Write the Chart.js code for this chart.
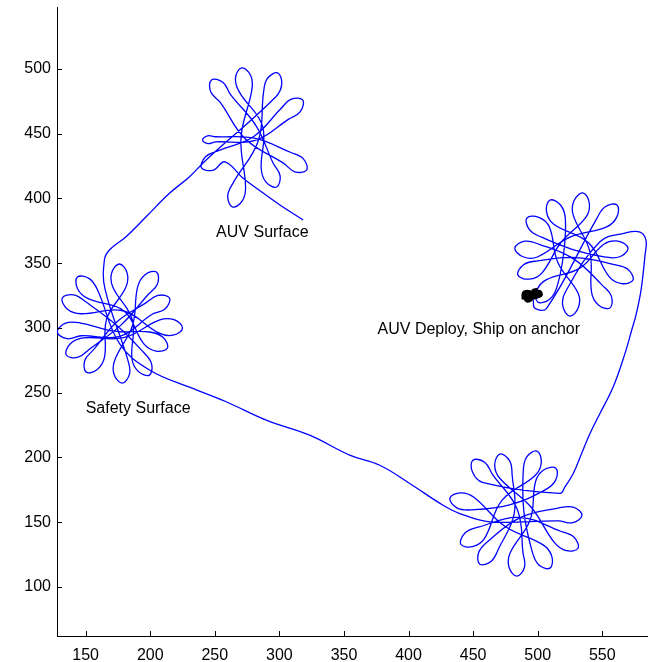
<!DOCTYPE html>
<html>
<head>
<meta charset="utf-8">
<script src="https://cdn.jsdelivr.net/npm/chart.js@4.4.1/dist/chart.umd.min.js"></script>
<style>
  html, body { margin: 0; padding: 0; background: #fff; overflow: hidden; }
  #wrap { width: 648px; height: 662px; }
</style>
</head>
<body>
<div id="wrap"><canvas id="c" width="648" height="662"></canvas></div>
<script>
// Axis ticks (easting / northing, metres)
const xTicks = [150, 200, 250, 300, 350, 400, 450, 500, 550];
const yTicks = [100, 150, 200, 250, 300, 350, 400, 450, 500];

// Annotations
const noteText = ['AUV Surface', 'Safety Surface', 'AUV Deploy, Ship on anchor'];
const noteX = [251, 150, 376];
const noteY = [374, 238, 299];

// Ship track while at anchor
const shipTrack = [
  [489.5, 322], [489.5, 326.5], [492, 327.5], [494.5, 326.5], [494.5, 322.5], [492, 321.5],
  [490.5, 324], [493, 325], [496, 325.5], [499, 327], [501.5, 327.5], [502, 325.5],
  [499, 324.5], [496, 324], [497, 328.5], [500, 329]
];

// AUV launch from the ship
const launch = [[496.5, 322], [497.8, 315.2], [506.9, 315.2]];

// Star pattern at the deploy site (loop, centre crossing, loop, ...)
const deploySite = [
  [545.8, 384.7], [552.3, 393.6], [561.4, 395.0], [561.3, 385.8], [553.4, 378.1],
  [525.0, 370.2],
  [499.7, 354.8], [488.7, 355.0], [482.3, 361.7], [489.9, 367.0], [500.7, 364.8],
  [528.0, 353.2],
  [549.9, 333.1], [557.0, 324.6], [555.9, 315.4], [547.0, 317.8], [541.7, 327.5],
  [540.4, 358.8],
  [527.5, 387.2], [528.1, 398.2], [535.0, 404.3], [539.9, 396.6], [537.5, 385.8],
  [518.0, 366.0],
  [503.2, 342.4], [493.3, 337.7], [484.6, 340.9], [489.1, 348.9], [499.8, 351.8],
  [529.8, 354.4],
  [559.3, 348.9], [569.8, 345.3], [573.8, 337.0], [565.0, 334.3], [555.3, 339.7],
  [539.3, 365.8],
  [512.2, 380.3], [506.8, 390.0], [509.5, 398.8], [517.8, 394.8], [521.4, 384.3],
  [520.1, 357.7],
  [514.8, 331.4], [509.0, 322.0], [500.0, 320.0], [499.4, 329.2], [506.8, 337.4],
  [532.3, 346.0],
  [551.5, 364.8], [562.3, 367.0], [569.9, 361.7], [563.5, 355.0], [552.5, 354.8],
  [527.2, 360.6],
  [503.0, 370.1], [493.6, 375.9], [491.6, 384.9], [500.8, 385.5], [509.0, 378.1],
  [515.6, 350.5],
  [531.3, 326.8], [531.5, 315.8], [525.0, 309.2], [519.5, 316.6], [521.3, 327.6]
];

// Leg down the east side
const legSouth = [
  [548.2, 366.6], [567.6, 373.3], [579.2, 374.1], [583.8, 367.9], [583.1, 356.3],
  [580.0, 329.3], [576.1, 310.0], [572.8, 298.4], [567.6, 280.4], [558.5, 254.6],
  [548.2, 234.0], [540.5, 218.5], [534.0, 203.1], [527.5, 187.6], [521.1, 177.3],
  [517.2, 172.2]
];

// Star pattern at the southern site
const southSite = [
  [457.2, 180.8], [449.5, 188.7], [449.8, 197.9], [458.9, 196.3], [465.0, 187.0],
  [484.3, 159.6],
  [488.6, 126.4], [489.8, 115.4], [483.9, 108.3], [477.8, 115.2], [478.6, 126.2],
  [494.2, 151.9],
  [498.4, 181.6], [504.9, 190.5], [514.1, 191.7], [513.9, 182.5], [505.8, 175.0],
  [478.1, 163.4],
  [448.4, 159.5], [437.4, 161.1], [432.0, 168.5], [440.2, 172.7], [450.6, 169.3],
  [474.6, 146.8],
  [504.2, 132.5], [510.9, 123.6], [509.5, 114.5], [500.7, 117.2], [495.8, 127.1],
  [489.3, 158.0],
  [488.8, 189.5], [491.4, 200.3], [499.4, 204.9], [502.8, 196.3], [498.2, 186.3],
  [472.3, 166.8],
  [458.7, 137.3], [449.5, 131.1], [440.5, 133.0], [443.7, 141.7], [453.9, 146.1],
  [486.3, 153.6],
  [517.8, 143.0], [528.0, 138.6], [531.2, 129.9], [522.2, 128.0], [513.0, 134.2],
  [494.8, 161.7],
  [470.6, 183.9], [466.7, 194.2], [470.7, 202.6], [478.3, 197.4], [480.2, 186.5],
  [481.8, 156.6],
  [469.6, 129.3], [464.1, 119.8], [455.2, 117.5], [454.3, 126.6], [461.4, 135.1],
  [486.5, 153.5],
  [516.5, 161.0], [527.5, 161.6], [534.3, 155.4], [527.1, 149.6], [516.1, 151.0]
];

// Long leg back to the west
const legWest = [
  [463.0, 150.3], [439.7, 156.7], [426.7, 163.1], [400.9, 179.9], [377.7, 194.0],
  [354.4, 201.8], [323.4, 217.2], [289.8, 228.8], [258.8, 243.0], [232.9, 253.3],
  [199.4, 267.5], [176.1, 288.1]
];

// Star pattern at the safety-surface site
const safetySite = [
  [159.3, 329.2], [152.8, 338.1], [143.6, 339.3], [143.8, 330.1], [151.9, 322.6],
  [179.7, 313.1],
  [194.9, 287.9], [204.4, 282.2], [213.3, 284.5], [209.6, 293.0], [199.3, 296.9],
  [172.0, 297.5],
  [145.4, 304.0], [134.4, 303.7], [128.1, 296.8], [135.8, 291.7], [146.6, 294.0],
  [176.5, 293.6],
  [201.2, 310.4], [211.4, 314.6], [214.9, 323.1], [206.0, 325.2], [196.6, 319.4],
  [173.9, 304.5],
  [156.5, 283.6], [149.4, 275.1], [150.5, 265.9], [159.4, 268.3], [164.7, 278.0],
  [166.2, 306.8],
  [181.1, 331.4], [182.1, 342.4], [176.1, 349.4], [170.1, 342.4], [171.1, 331.4],
  [186.2, 306.0],
  [185.8, 276.4], [190.7, 266.5], [199.4, 263.6], [200.9, 272.7], [194.4, 281.6],
  [173.7, 302.3],
  [150.3, 320.0], [140.7, 325.5], [131.9, 323.1], [135.7, 314.7], [146.1, 311.0],
  [178.8, 313.3],
  [206.6, 296.2], [217.6, 294.4], [225.0, 299.9], [218.4, 306.4], [207.4, 306.2],
  [179.4, 292.5],
  [148.1, 292.4], [138.1, 287.8], [135.0, 279.1], [144.1, 277.4], [153.1, 283.8],
  [177.7, 302.6],
  [198.2, 325.7], [205.6, 334.0], [204.8, 343.2], [195.8, 341.0], [190.2, 331.5],
  [186.2, 301.8],
  [172.5, 275.1], [172.0, 264.1], [178.4, 257.4], [184.0, 264.7], [182.5, 275.7]
];

// Leg north to the surfacing site
const legNorth = [
  [165.0, 330.0], [164.5, 352.5], [168.4, 360.2], [181.3, 370.5], [196.8, 385.9],
  [214.9, 404.0], [230.4, 416.8], [243.3, 429.8]
];

// Star pattern at the surfacing site
const surfaceSite = [
  [297.1, 478.4], [301.8, 488.3], [298.6, 497.0], [290.6, 492.5], [287.7, 481.8],
  [283.6, 444.4],
  [264.2, 412.1], [260.0, 401.9], [263.7, 393.4], [271.4, 398.3], [273.8, 409.1],
  [270.3, 447.0],
  [278.7, 484.1], [277.8, 495.0], [270.7, 500.9], [266.0, 493.0], [268.9, 482.3],
  [287.0, 455.7],
  [285.9, 423.4], [289.5, 412.9], [297.8, 408.9], [300.5, 417.7], [295.1, 427.4],
  [282.1, 455.9],
  [262.2, 480.2], [256.4, 489.6], [247.4, 491.6], [246.8, 482.4], [254.2, 474.2],
  [273.9, 445.8],
  [303.1, 427.3], [312.0, 420.6], [321.1, 422.0], [318.4, 430.8], [308.5, 435.7],
  [280.5, 446.6],
  [250.4, 447.7], [244.4, 448.4], [240.5, 445.2], [244.7, 442.4], [250.6, 443.7],
  [281.2, 444.8],
  [306.9, 461.1], [316.2, 467.1], [318.0, 476.1], [308.8, 476.5], [300.7, 468.9],
  [280.1, 447.9],
  [252.8, 436.9], [242.8, 432.3], [239.7, 423.6], [248.8, 421.9], [257.8, 428.3]
];

// Final run to the surface
const ascent = [[271.9, 415.6], [282.3, 407.9], [300.4, 395.0], [318.4, 383.4]];

const toXY = a => a.map(p => ({ x: p[0], y: p[1] }));
const auvTrack = [].concat(launch, deploySite, legSouth, southSite, legWest,
                           safetySite, legNorth, surfaceSite, ascent);

const FONT = "'Liberation Sans', Arial, Helvetica, sans-serif";

// Tick marks pointing into the plot
const inwardTicks = {
  id: 'inwardTicks',
  afterDraw(chart) {
    const { ctx, chartArea: a, scales: { x, y } } = chart;
    ctx.save();
    ctx.strokeStyle = '#000';
    ctx.lineWidth = 1;
    ctx.beginPath();
    xTicks.forEach(v => {
      const px = Math.round(x.getPixelForValue(v)) + 0.5;
      ctx.moveTo(px, a.bottom);
      ctx.lineTo(px, a.bottom - 5);
    });
    yTicks.forEach(v => {
      const py = Math.round(y.getPixelForValue(v)) + 0.5;
      ctx.moveTo(a.left, py);
      ctx.lineTo(a.left + 5, py);
    });
    ctx.stroke();
    ctx.restore();
  }
};

// Text notes placed in data coordinates
const notes = {
  id: 'notes',
  afterDatasetsDraw(chart) {
    const { ctx, scales: { x, y } } = chart;
    ctx.save();
    ctx.fillStyle = '#000';
    ctx.font = '16px ' + FONT;
    ctx.textAlign = 'left';
    ctx.textBaseline = 'middle';
    noteText.forEach((t, i) => {
      ctx.fillText(t, x.getPixelForValue(noteX[i]), y.getPixelForValue(noteY[i]));
    });
    ctx.restore();
  }
};

new Chart(document.getElementById('c'), {
  type: 'scatter',
  data: {
    datasets: [
      {
        label: 'Ship',
        data: toXY(shipTrack),
        showLine: true,
        borderColor: '#000',
        borderWidth: 5,
        pointRadius: 0,
        tension: 0.3,
        fill: false
      },
      {
        label: 'AUV',
        data: toXY(auvTrack),
        showLine: true,
        borderColor: '#0000ff',
        borderWidth: 1.3,
        pointRadius: 0,
        tension: 0.4,
        fill: false
      }
    ]
  },
  options: {
    responsive: false,
    devicePixelRatio: 1,
    animation: false,
    events: [],
    layout: { padding: { top: 7, right: 0, left: 0, bottom: 0 } },
    plugins: { legend: { display: false }, tooltip: { enabled: false } },
    scales: {
      x: {
        type: 'linear',
        min: 127.8,
        max: 585.4,
        afterBuildTicks: s => { s.ticks = xTicks.map(v => ({ value: v })); },
        afterFit: s => { s.height = 26; s.paddingLeft = 0; s.paddingRight = 0; },
        grid: { display: false, drawTicks: false },
        border: { display: true, color: '#000', width: 1 },
        ticks: { color: '#000', font: { family: FONT, size: 16 }, padding: 10, maxRotation: 0, autoSkip: false }
      },
      y: {
        type: 'linear',
        min: 62.1,
        max: 547.9,
        afterBuildTicks: s => { s.ticks = yTicks.map(v => ({ value: v })); },
        afterFit: s => { s.width = 57; s.paddingTop = 0; s.paddingBottom = 0; },
        grid: { display: false, drawTicks: false },
        border: { display: true, color: '#000', width: 1 },
        ticks: { color: '#000', font: { family: FONT, size: 16 }, padding: 6, autoSkip: false }
      }
    }
  },
  plugins: [inwardTicks, notes]
});
</script>
</body>
</html>
